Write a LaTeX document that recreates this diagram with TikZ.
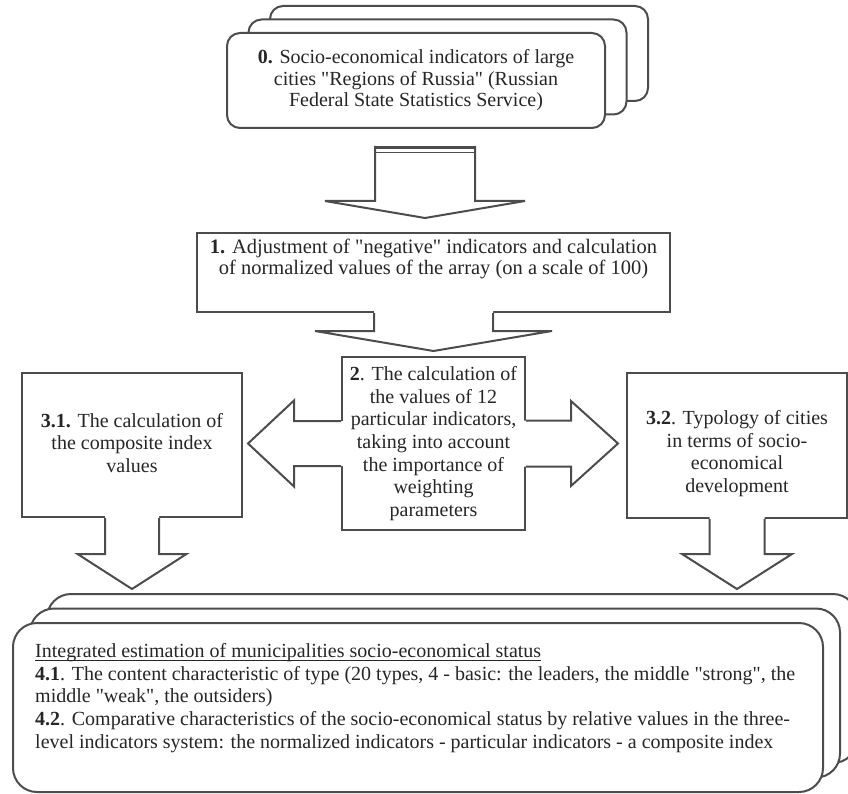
\documentclass[tikz,border=0pt]{standalone}
\usepackage{fontspec}
\setmainfont{Liberation Serif}[Ligatures=TeXOff]
\usetikzlibrary{calc}
\definecolor{ln}{HTML}{4C4C4C}
\definecolor{tx}{HTML}{262626}
\newcommand\dq{"}
\newcommand\myul[1]{\setbox0\hbox{#1}\rlap{\rule[-3.2pt]{\wd0}{0.9pt}}\box0}
\newcommand\blkdown[5]{% #1 tail, #2 tip, #3 shaft half, #4 wing half, #5 head length
  \fill[white] ($(#2|-#1)+(-#3,-2)$) -- ($(#2)+(-#3,-#5)$) -- ($(#2)+(-#4,-#5)$) -- (#2)
     -- ($(#2)+(#4,-#5)$) -- ($(#2)+(#3,-#5)$) -- ($(#2|-#1)+(#3,-2)$) -- cycle;
  \draw[arr] ($(#2|-#1)+(-#3,0)$) -- ($(#2)+(-#3,-#5)$) -- ($(#2)+(-#4,-#5)$) -- (#2)
     -- ($(#2)+(#4,-#5)$) -- ($(#2)+(#3,-#5)$) -- ($(#2|-#1)+(#3,0)$);
}
\newcommand\blkhoriz[6]{% #1 tail, #2 tip, #3 shaft half, #4 wing half, #5 signed head length, #6 overlap
  \fill[white] ($(#1|-#2)+(#6,-#3)$) -- ($(#2)+(-#5,-#3)$) -- ($(#2)+(-#5,-#4)$) -- (#2)
     -- ($(#2)+(-#5,#4)$) -- ($(#2)+(-#5,#3)$) -- ($(#1|-#2)+(#6,#3)$) -- cycle;
  \draw[arr] ($(#1|-#2)+(0,-#3)$) -- ($(#2)+(-#5,-#3)$) -- ($(#2)+(-#5,-#4)$) -- (#2)
     -- ($(#2)+(-#5,#4)$) -- ($(#2)+(-#5,#3)$) -- ($(#1|-#2)+(0,#3)$);
}
\begin{document}
\begin{tikzpicture}[x=1pt,y=-1pt,
  box/.style={draw=ln, line width=2pt, fill=white, inner sep=0pt, text=tx, align=center,
    font=\fontsize{20}{22.6}\selectfont},
  rbox/.style={box, rounded corners=13pt, font=\fontsize{20}{21.5}\selectfont},
  bigrbox/.style={box, rounded corners=24pt},
  txt/.style={text=tx, inner sep=0pt, align=center, font=\fontsize{20}{22.6}\selectfont},
  arr/.style={draw=ln, line width=2pt, line join=miter},
]
\useasboundingbox (0,0) rectangle (848,794);

% stage 0 (stacked)
\node[rbox, minimum width=378pt, minimum height=95pt] (b0c) at (459,53.5) {};
\node[rbox, minimum width=378pt, minimum height=95pt] (b0b) at (437.5,67) {};
\node[rbox, minimum width=378pt, minimum height=95pt] (b0) at (416,80.5)
  {\textbf{0.} Socio-economical indicators of large\\cities \dq Regions of Russia\dq{} (Russian\\Federal State Statistics Service)};

% stage 1
\node[box, minimum width=473pt, minimum height=79pt] (b1) at (433.5,272.5) {};
\node[txt, anchor=north, font=\fontsize{20.5}{20.5}\selectfont] (t1) at ($(b1.north)+(0,7)$)
  {\textbf{1.} Adjustment of \dq negative\dq{} indicators and calculation\\of normalized values of the array (on a scale of 100)};

% stage 2
\node[box, minimum width=183pt, minimum height=173pt] (b2) at (433.5,443.5)
  {\textbf{2}. The calculation of\\the values of 12\\particular indicators,\\taking into account\\the importance of\\weighting\\parameters};

% stage 3
\node[box, minimum width=220pt, minimum height=144pt] (b31) at (132,445) {};
\node[txt] (t31) at ($(b31.center)+(0,-2)$)
  {\textbf{3.1.} The calculation of\\the composite index\\values};
\node[box, minimum width=220pt, minimum height=145pt] (b32) at (737,445.5) {};
\node[txt] (t32) at ($(b32.center)+(0,8)$)
  {\textbf{3.2}. Typology of cities\\in terms of socio-\\economical\\development};

% stage 4 (stacked)
\node[bigrbox, minimum width=810pt, minimum height=169pt] (b4c) at (452,678.5) {};
\node[bigrbox, minimum width=810pt, minimum height=169pt] (b4b) at (435,693) {};
\node[bigrbox, minimum width=810pt, minimum height=169pt] (b4) at (418,707.5) {};
\node[txt, anchor=north west, align=left, font=\fontsize{20}{22.8}\selectfont] (t4) at ($(b4.north west)+(23,21)$)
  {\myul{Integrated estimation of municipalities socio-economical status}\\
   \textbf{4.1}. The content characteristic of type (20 types, 4 - basic: the leaders, the middle \dq strong\dq, the\\
   middle \dq weak\dq, the outsiders)\\
   \textbf{4.2}. Comparative characteristics of the socio-economical status by relative values in the three-\\
   level indicators system: the normalized indicators - particular indicators - a composite index};

% arrows
\coordinate (a01tail) at (425,146);
\coordinate (a01tip) at ($(b1.north)+(-8.5,-14)$);
\blkdown{a01tail}{a01tip}{50}{100}{17}
\draw[ln, line width=3.5pt] ($(a01tail)+(-51,1.5)$) -- ($(a01tail)+(51,1.5)$);
\draw[ln, line width=1.4pt] ($(a01tail)+(-50,6.5)$) -- ($(a01tail)+(50,6.5)$);

\coordinate (a12tip) at ($(b1.south)+(0,38)$);
\blkdown{b1.south}{a12tip}{59.5}{118.5}{20}

\coordinate (a2ltip) at ($(b2.west)+(-93,0)$);
\blkhoriz{b2.west}{a2ltip}{22.5}{43}{-46}{2}
\coordinate (a2rtip) at ($(b2.east)+(92,0)$);
\blkhoriz{b2.east}{a2rtip}{23}{42.5}{47}{-2}

\coordinate (a31tip) at ($(b31.south)+(0,71)$);
\blkdown{b31.south}{a31tip}{27}{54.5}{35}
\coordinate (a32tip) at ($(b32.south)+(0,70)$);
\blkdown{b32.south}{a32tip}{27.5}{55}{35}
\end{tikzpicture}
\end{document}
